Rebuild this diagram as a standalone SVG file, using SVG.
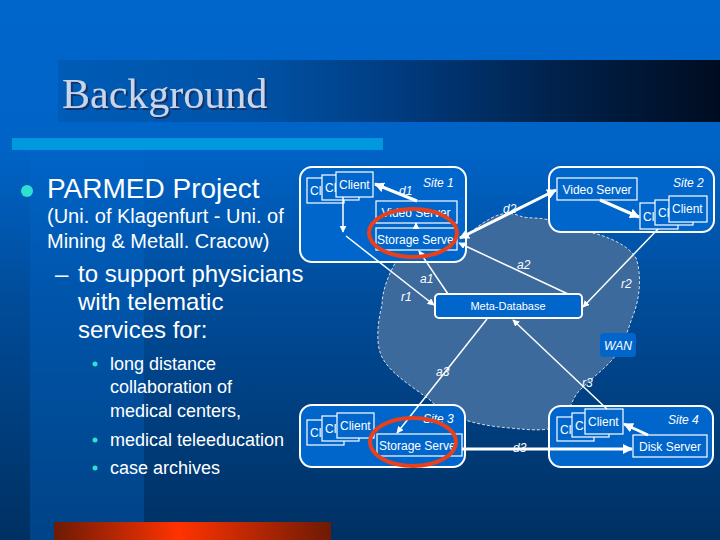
<svg xmlns="http://www.w3.org/2000/svg" width="720" height="540" viewBox="0 0 720 540">
<defs>
<linearGradient id="bg" x1="0" y1="0" x2="0" y2="1">
<stop offset="0" stop-color="#0066cc"/>
<stop offset="0.28" stop-color="#0063c6"/>
<stop offset="0.55" stop-color="#004c9a"/>
<stop offset="1" stop-color="#003062"/>
</linearGradient>
<linearGradient id="titlebar" x1="0" y1="0" x2="1" y2="0">
<stop offset="0" stop-color="#005cb6"/>
<stop offset="0.3" stop-color="#0052a6"/>
<stop offset="0.5" stop-color="#003d82"/>
<stop offset="0.75" stop-color="#00224c"/>
<stop offset="1" stop-color="#000c20"/>
</linearGradient>
<linearGradient id="redbar" x1="0" y1="0" x2="1" y2="0">
<stop offset="0" stop-color="#6e1a05"/>
<stop offset="0.45" stop-color="#ff3300"/>
<stop offset="1" stop-color="#6e1a05"/>
</linearGradient>
<filter id="shadow" x="-5%" y="-20%" width="115%" height="150%">
<feDropShadow dx="2" dy="2" stdDeviation="0.6" flood-color="#14306a" flood-opacity="1"/>
</filter>
<marker id="ah" viewBox="0 0 10 10" refX="9" refY="5" markerWidth="7" markerHeight="7" markerUnits="userSpaceOnUse" orient="auto-start-reverse">
<path d="M0,0 L10,5 L0,10 z" fill="#ffffff"/>
</marker>
<marker id="ahb" viewBox="0 0 10 10" refX="9" refY="5" markerWidth="10" markerHeight="10" markerUnits="userSpaceOnUse" orient="auto-start-reverse">
<path d="M0,0 L10,5 L0,10 z" fill="#ffffff"/>
</marker>
</defs>
<style>
.txt{font-family:"Liberation Sans",Arial,sans-serif;fill:#ffffff}
.site{fill:#0066cc;stroke:#ffffff;stroke-width:2}
.box{fill:#0066cc;stroke:#ffffff;stroke-width:1.2}
.bl{font-family:"Liberation Sans",Arial,sans-serif;fill:#ffffff;font-size:12px}
.it{font-family:"Liberation Sans",Arial,sans-serif;fill:#ffffff;font-size:12px;font-style:italic}
.thin{stroke:#ffffff;stroke-width:1.5;fill:none}
.thick{stroke:#ffffff;stroke-width:3;fill:none}
.ring{fill:none;stroke:#e8401c;stroke-width:4}
</style>
<rect x="0" y="0" width="720" height="540" fill="url(#bg)"/>
<rect x="30" y="140" width="114" height="400" fill="#0066cc" opacity="0.35"/>
<rect x="58" y="60" width="662" height="62" fill="url(#titlebar)"/>
<text x="62" y="108" font-family="'Liberation Serif','Times New Roman',serif" font-size="42" fill="#c8d6ec" filter="url(#shadow)">Background</text>
<rect x="12" y="138" width="371" height="12" fill="#0099dd"/>
<rect x="54" y="522" width="277" height="18" fill="url(#redbar)"/>

<g id="text-left">
<circle cx="27" cy="191" r="6" fill="#2fe0d0"/>
<text class="txt" x="47" y="198" font-size="28">PARMED Project</text>
<text class="txt" x="47" y="223" font-size="20">(Uni. of Klagenfurt - Uni. of</text>
<text class="txt" x="47" y="248" font-size="20">Mining &amp; Metall. Cracow)</text>
<text class="txt" x="55" y="282" font-size="24">–</text>
<text class="txt" x="78" y="282" font-size="24">to support physicians</text>
<text class="txt" x="78" y="310" font-size="24">with telematic</text>
<text class="txt" x="78" y="338" font-size="24">services for:</text>
<circle cx="95" cy="364" r="2.5" fill="#2fe0d0"/>
<text class="txt" x="110" y="370" font-size="18">long distance</text>
<text class="txt" x="110" y="393" font-size="18">collaboration of</text>
<text class="txt" x="110" y="417" font-size="18">medical centers,</text>
<circle cx="95" cy="440" r="2.5" fill="#2fe0d0"/>
<text class="txt" x="110" y="446" font-size="18">medical teleeducation</text>
<circle cx="95" cy="468" r="2.5" fill="#2fe0d0"/>
<text class="txt" x="110" y="474" font-size="18">case archives</text>
</g>

<g id="wan">
<path d="M400 255 C390 270 382 290 382 305 C378 320 376 340 380 352 C385 370 410 385 430 400 C445 415 470 425 510 428 C530 430 548 432 560 425 C570 415 570 400 580 390 C595 375 610 365 618 352 C625 340 628 330 632 318 C640 300 642 275 636 258 C628 245 610 238 597 234 L560 225 C545 215 530 220 520 216 C505 210 495 215 480 225 L460 240 C445 250 420 252 400 255 Z" fill="#3c6a9c" stroke="#ffffff" stroke-width="0.8" stroke-dasharray="3 2"/>
<rect x="600" y="333" width="36" height="24" rx="4" fill="#0066cc"/>
<text class="it" x="618" y="350" text-anchor="middle">WAN</text>
</g>

<g id="site1">
<rect class="site" x="300" y="167" width="166" height="95" rx="12"/>
<rect class="box" x="307" y="178" width="37" height="25"/>
<text class="bl" x="310" y="195">Cl</text>
<rect class="box" x="322" y="175" width="37" height="25"/>
<text class="bl" x="325" y="192">Cl</text>
<rect class="box" x="336" y="172" width="37" height="25"/>
<text class="bl" x="339" y="189">Client</text>
<text class="it" x="423" y="187">Site 1</text>
<rect class="box" x="376" y="201" width="81" height="22"/>
<text class="bl" x="416" y="217" text-anchor="middle">Video Server</text>
<rect class="box" x="376" y="228" width="81" height="22"/>
<text class="bl" x="377" y="244">Storage Serve</text>
</g>

<g id="site2">
<rect class="site" x="549" y="167" width="165" height="65" rx="12"/>
<text class="it" x="673" y="187">Site 2</text>
<rect class="box" x="557" y="178" width="80" height="22"/>
<text class="bl" x="597" y="194" text-anchor="middle">Video Server</text>
<rect class="box" x="640" y="203" width="38" height="26"/>
<text class="bl" x="643" y="221">Cl</text>
<rect class="box" x="655" y="200" width="38" height="25"/>
<text class="bl" x="658" y="217">Cl</text>
<rect class="box" x="669" y="196" width="38" height="26"/>
<text class="bl" x="672" y="213">Client</text>
</g>

<g id="metadb">
<rect x="435" y="294" width="147" height="24" rx="4" fill="#0066cc" stroke="#ffffff" stroke-width="2"/>
<text class="txt" x="508" y="310" font-size="11" text-anchor="middle">Meta-Database</text>
</g>

<g id="site3">
<rect class="site" x="300" y="405" width="165" height="62" rx="12"/>
<rect class="box" x="307" y="420" width="37" height="25"/>
<text class="bl" x="310" y="437">Cl</text>
<rect class="box" x="322" y="416" width="37" height="25"/>
<text class="bl" x="325" y="433">Cl</text>
<rect class="box" x="337" y="413" width="37" height="25"/>
<text class="bl" x="340" y="430">Client</text>
<text class="it" x="423" y="423">Site 3</text>
<rect class="box" x="377" y="434" width="85" height="22"/>
<text class="bl" x="379" y="450">Storage Serve</text>
</g>

<g id="site4">
<rect class="site" x="549" y="406" width="164" height="61" rx="12"/>
<rect class="box" x="557" y="417" width="37" height="24"/>
<text class="bl" x="560" y="434">Cl</text>
<rect class="box" x="572" y="413" width="37" height="24"/>
<text class="bl" x="575" y="430">Cl</text>
<rect class="box" x="585" y="409" width="38" height="25"/>
<text class="bl" x="588" y="426">Client</text>
<text class="it" x="668" y="424">Site 4</text>
<rect class="box" x="633" y="435" width="74" height="22"/>
<text class="bl" x="670" y="451" text-anchor="middle">Disk Server</text>
</g>

<g id="connectors">
<line class="thick" x1="417" y1="201" x2="375" y2="184" marker-end="url(#ahb)"/>
<line class="thin" x1="416" y1="228" x2="416" y2="223" marker-end="url(#ah)"/>
<line class="thin" x1="343" y1="197" x2="343" y2="232" marker-end="url(#ah)"/>
<line class="thin" x1="346" y1="236" x2="434" y2="305" marker-end="url(#ah)"/>
<line class="thin" x1="448" y1="294" x2="419" y2="251" marker-end="url(#ah)"/>
<line class="thin" x1="568" y1="294" x2="459" y2="243" marker-end="url(#ah)"/>
<line class="thick" x1="460" y1="238" x2="556" y2="190" marker-start="url(#ahb)" marker-end="url(#ahb)"/>
<line class="thick" x1="600" y1="200" x2="639" y2="217" marker-end="url(#ahb)"/>
<line class="thin" x1="658" y1="229" x2="583" y2="307" marker-end="url(#ah)"/>
<line class="thin" x1="487" y1="319" x2="397" y2="433" marker-end="url(#ah)"/>
<line class="thin" x1="607" y1="409" x2="513" y2="320" marker-end="url(#ah)"/>
<line class="thick" x1="462" y1="449" x2="632" y2="449" marker-end="url(#ahb)"/>
<line class="thick" x1="648" y1="435" x2="624" y2="424" marker-end="url(#ahb)"/>
<text class="it" x="399" y="195">d1</text>
<text class="it" x="503" y="213">d2</text>
<text class="it" x="513" y="452">d3</text>
<text class="it" x="420" y="283">a1</text>
<text class="it" x="517" y="269">a2</text>
<text class="it" x="436" y="376">a3</text>
<text class="it" x="401" y="301">r1</text>
<text class="it" x="621" y="288">r2</text>
<text class="it" x="582" y="387">r3</text>
</g>

<g id="highlights">
<ellipse class="ring" cx="413" cy="233" rx="44" ry="24"/>
<ellipse class="ring" cx="413" cy="442" rx="43" ry="24"/>
</g>
</svg>
